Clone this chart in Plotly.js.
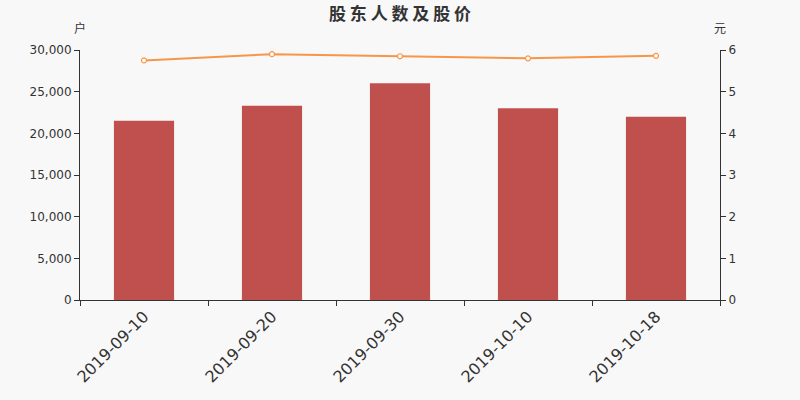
<!DOCTYPE html>
<html>
<head>
<meta charset="utf-8">
<script src="https://cdn.plot.ly/plotly-3.0.1.min.js"></script>
<style>
  html, body { margin: 0; padding: 0; background: #f8f8f8; }
  #chart { width: 800px; height: 400px; }
</style>
</head>
<body>
<div id="chart"></div>
<script>
const dates = ['2019-09-10', '2019-09-20', '2019-09-30', '2019-10-10', '2019-10-18'];
const holders = [21500, 23300, 26000, 23000, 22000];
const prices = [5.75, 5.90, 5.85, 5.80, 5.86];

const fontFamily = '"Noto Sans CJK SC", "DejaVu Sans", sans-serif';

var data = [
  {
    x: dates,
    y: holders,
    type: 'bar',
    name: '股东人数',
    marker: { color: '#c0504d' },
    hoverinfo: 'x+y'
  },
  {
    x: dates,
    y: prices,
    type: 'scatter',
    mode: 'lines+markers',
    name: '股价',
    yaxis: 'y2',
    line: { color: '#f79646', width: 2 },
    marker: { size: 5, color: '#ffffff', line: { color: '#f79646', width: 1.2 } }
  }
];

var layout = {
  width: 800,
  height: 400,
  paper_bgcolor: '#f8f8f8',
  plot_bgcolor: '#f8f8f8',
  showlegend: false,
  bargap: 0.53,
  font: { family: fontFamily, color: '#333333' },
  title: {
    text: '<b>股 东 人 数 及 股 价</b>',
    font: { size: 17, color: '#333333', family: fontFamily },
    x: 0.5, xanchor: 'center', y: 0.965, yanchor: 'middle'
  },
  margin: { l: 80, r: 80, t: 50, b: 100 },
  xaxis: {
    type: 'category',
    showline: true,
    linecolor: '#333333',
    linewidth: 1,
    ticks: 'outside',
    tickson: 'boundaries',
    ticklen: 5,
    tickcolor: '#333333',
    tickangle: -45,
    tickfont: { size: 16, color: '#333333', family: '"DejaVu Sans", sans-serif' },
    showgrid: false,
    zeroline: false
  },
  yaxis: {
    range: [0, 30000],
    tickvals: [0, 5000, 10000, 15000, 20000, 25000, 30000],
    tickformat: ',d',
    showline: true,
    linecolor: '#333333',
    ticks: 'outside',
    ticklen: 5,
    tickcolor: '#333333',
    tickfont: { size: 12, color: '#333333', family: '"DejaVu Sans", sans-serif' },
    showgrid: false,
    zeroline: false
  },
  yaxis2: {
    overlaying: 'y',
    side: 'right',
    range: [0, 6],
    tickvals: [0, 1, 2, 3, 4, 5, 6],
    showline: true,
    linecolor: '#333333',
    ticks: 'outside',
    ticklen: 5,
    tickcolor: '#333333',
    tickfont: { size: 12, color: '#333333', family: '"DejaVu Sans", sans-serif' },
    showgrid: false,
    zeroline: false
  },
  annotations: [
    { text: '户', xref: 'paper', yref: 'paper', x: 0, y: 1.09, xanchor: 'center', yanchor: 'middle', showarrow: false, font: { size: 12, color: '#333333' } },
    { text: '元', xref: 'paper', yref: 'paper', x: 1, y: 1.09, xanchor: 'center', yanchor: 'middle', showarrow: false, font: { size: 12, color: '#333333' } }
  ]
};

Plotly.newPlot('chart', data, layout, { displayModeBar: false });
</script>
</body>
</html>
